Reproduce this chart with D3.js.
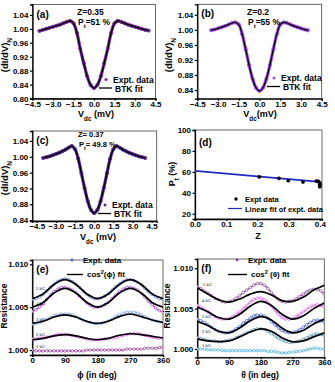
<!DOCTYPE html>
<html><head><meta charset="utf-8">
<script src="https://cdn.jsdelivr.net/npm/d3@7"></script>
<style>
body{margin:0;background:#fff}
text{font-family:"Liberation Sans",Arial,sans-serif;font-weight:bold;fill:#000}
</style></head>
<body><svg id="c" width="335" height="382"></svg>
<script>
// ---------- data ----------
const voltAC = [-4,-3.75,-3.5,-3.25,-3,-2.75,-2.5,-2.25,-2,-1.75,-1.5,-1.25,-1,-0.75,-0.5,-0.25,0,0.25,0.5,0.75,1,1.25,1.5,1.75,2,2.25,2.5,2.75,3,3.25,3.5,3.75,4];
const voltB = [-3.5,-3.25,-3,-2.75,-2.5,-2.25,-2,-1.75,-1.5,-1.25,-1,-0.75,-0.5,-0.25,0,0.25,0.5,0.75,1,1.25,1.5,1.75,2,2.25,2.5,2.75,3,3.25,3.5];
const exptA = [0.994,0.997,1.000,1.003,1.006,1.009,1.012,1.016,1.020,1.023,1.016,0.988,0.942,0.902,0.864,0.839,0.830,0.839,0.864,0.902,0.942,0.988,1.016,1.023,1.020,1.016,1.012,1.009,1.006,1.003,1.000,0.997,0.995];
const fitA  = [0.994,0.997,1.000,1.003,1.006,1.009,1.012,1.016,1.020,1.023,1.016,0.988,0.942,0.902,0.864,0.839,0.830,0.839,0.864,0.902,0.942,0.988,1.016,1.023,1.020,1.016,1.012,1.009,1.006,1.003,1.000,0.997,0.995];
const exptB = [0.999,1.001,1.004,1.007,1.010,1.014,1.018,1.020,1.014,0.988,0.948,0.906,0.870,0.846,0.838,0.846,0.870,0.906,0.948,0.988,1.014,1.020,1.018,1.014,1.010,1.007,1.004,1.001,0.999];
const fitB  = [0.999,1.001,1.004,1.007,1.010,1.014,1.018,1.020,1.014,0.988,0.948,0.906,0.870,0.846,0.838,0.846,0.870,0.906,0.948,0.988,1.014,1.020,1.018,1.014,1.010,1.007,1.004,1.001,0.999];
const exptC = [0.997,0.999,1.001,1.004,1.007,1.010,1.014,1.018,1.023,1.027,1.019,0.995,0.958,0.921,0.888,0.866,0.858,0.866,0.888,0.921,0.958,0.995,1.019,1.027,1.023,1.018,1.014,1.010,1.007,1.004,1.001,0.999,0.997];
const fitC  = [0.997,0.999,1.001,1.004,1.007,1.010,1.014,1.018,1.023,1.027,1.019,0.995,0.958,0.921,0.888,0.866,0.858,0.866,0.888,0.921,0.958,0.995,1.019,1.027,1.023,1.018,1.014,1.010,1.007,1.004,1.001,0.999,0.997];
const voltTicks = [-4.5,-3.0,-1.5,0.0,1.5,3.0,4.5];
const dIdVTicksA = [0.80,0.84,0.88,0.92,0.96,1.00,1.04];
const dIdVTicksBC = [0.84,0.88,0.92,0.96,1.00,1.04];

const zVals = [0.206,0.269,0.299,0.346,0.389,0.395,0.400,0.400,0.400,0.400];
const pVals = [55.2,53.8,51.6,50.4,51.2,51.0,49.6,48.2,46.8,45.8];
const zFit = [0.0,0.40];
const pFit = [61.0,50.5];
const zTicks = [0.0,0.1,0.2,0.3,0.4];
const pTicks = [20,40,60,80,100];

const ang10 = [0,10,20,30,40,50,60,70,80,90,100,110,120,130,140,150,160,170,180,190,200,210,220,230,240,250,260,270,280,290,300,310,320,330,340,350,360];
const ang30 = [0,30,60,90,120,150,180,210,240,270,300,330,360];
const angTicks = [0,90,180,270,360];
const resTicks = [1.000,1.005,1.010];
const fieldLabels = ["5 kG","4 kG","3 kG","2 kG","1 kG"];

const phiE5 = [1.0059,1.0060,1.0062,1.0065,1.0069,1.0073,1.0077,1.0080,1.0082,1.0083,1.0082,1.0080,1.0077,1.0073,1.0069,1.0065,1.0062,1.0060,1.0060,1.0061,1.0063,1.0066,1.0070,1.0074,1.0077,1.0080,1.0082,1.0082,1.0081,1.0079,1.0076,1.0072,1.0068,1.0065,1.0062,1.0060,1.0059];
const phiE4 = [1.0045,1.0047,1.0050,1.0054,1.0059,1.0064,1.0068,1.0071,1.0073,1.0073,1.0072,1.0070,1.0067,1.0063,1.0059,1.0055,1.0052,1.0050,1.0050,1.0051,1.0053,1.0056,1.0060,1.0064,1.0068,1.0071,1.0073,1.0073,1.0072,1.0070,1.0066,1.0062,1.0057,1.0053,1.0049,1.0046,1.0044];
const phiE3 = [1.0030,1.0031,1.0032,1.0034,1.0036,1.0038,1.0040,1.0041,1.0042,1.0042,1.0042,1.0041,1.0039,1.0037,1.0035,1.0033,1.0032,1.0031,1.0031,1.0031,1.0032,1.0034,1.0036,1.0039,1.0041,1.0043,1.0044,1.0044,1.0044,1.0043,1.0041,1.0039,1.0037,1.0035,1.0034,1.0033,1.0032];
const phiE2 = [1.0013,1.0013,1.0014,1.0014,1.0015,1.0016,1.0017,1.0018,1.0018,1.0018,1.0018,1.0017,1.0016,1.0015,1.0014,1.0013,1.0012,1.0012,1.0012,1.0012,1.0013,1.0013,1.0014,1.0015,1.0016,1.0017,1.0018,1.0019,1.0019,1.0019,1.0018,1.0017,1.0016,1.0015,1.0014,1.0014,1.0015];
const phiE1 = [1.0000,0.9999,0.9999,0.9999,0.9999,0.9999,0.9999,0.9999,0.9999,0.9999,0.9999,0.9999,0.9999,0.9999,0.9999,1.0000,1.0000,1.0000,1.0000,1.0000,1.0000,1.0000,1.0000,1.0000,1.0000,1.0000,1.0001,1.0001,1.0001,1.0001,1.0001,1.0002,1.0002,1.0002,1.0002,1.0003,1.0003];
const fitE5 = [1.0060,1.00655,1.00765,1.0082,1.00765,1.00655,1.0060,1.00655,1.00765,1.0082,1.00765,1.00655,1.0060];
const fitE4 = [1.0050,1.00555,1.00665,1.0072,1.00665,1.00555,1.0050,1.00555,1.00665,1.0072,1.00665,1.00555,1.0050];
const fitE3 = [1.0031,1.00335,1.00385,1.0041,1.00385,1.00335,1.0031,1.00338,1.0039,1.0042,1.0039,1.0035,1.0032];
const fitE2 = [1.0012,1.00135,1.00165,1.0018,1.00165,1.00135,1.0012,1.00137,1.00172,1.0019,1.0018,1.0016,1.0014];

const thF5 = [1.0077,1.0075,1.0072,1.0069,1.0066,1.0063,1.0061,1.0059,1.0058,1.0059,1.0060,1.0063,1.0066,1.0070,1.0073,1.0076,1.0079,1.0081,1.0081,1.0079,1.0075,1.0070,1.0065,1.0061,1.0059,1.0058,1.0059,1.0060,1.0062,1.0065,1.0068,1.0071,1.0073,1.0074,1.0074,1.0072,1.0068];
const thF4 = [1.0054,1.0052,1.0049,1.0046,1.0043,1.0040,1.0038,1.0037,1.0037,1.0038,1.0040,1.0043,1.0046,1.0050,1.0054,1.0058,1.0061,1.0063,1.0063,1.0061,1.0058,1.0053,1.0048,1.0043,1.0039,1.0037,1.0037,1.0038,1.0040,1.0043,1.0046,1.0049,1.0052,1.0054,1.0055,1.0054,1.0052];
const thF3 = [1.0037,1.0035,1.0033,1.0030,1.0027,1.0024,1.0022,1.0021,1.0020,1.0021,1.0022,1.0025,1.0028,1.0032,1.0035,1.0038,1.0041,1.0042,1.0042,1.0041,1.0038,1.0034,1.0030,1.0026,1.0023,1.0021,1.0020,1.0021,1.0022,1.0024,1.0027,1.0030,1.0033,1.0035,1.0036,1.0035,1.0033];
const thF2 = [1.0014,1.0013,1.0012,1.0011,1.0010,1.0010,1.0009,1.0009,1.0010,1.0011,1.0012,1.0014,1.0016,1.0018,1.0020,1.0022,1.0024,1.0025,1.0025,1.0024,1.0022,1.0019,1.0016,1.0013,1.0011,1.0009,1.0008,1.0008,1.0009,1.0010,1.0012,1.0014,1.0016,1.0018,1.0019,1.0018,1.0016];
const thF1 = [1.0000,1.0000,1.0000,0.9999,0.9999,0.9999,0.9999,0.9998,0.9998,0.9998,0.9998,0.9998,0.9998,0.9998,0.9998,0.9998,0.9998,0.9998,0.9998,0.9998,0.9997,0.9997,0.9997,0.9996,0.9995,0.9995,0.9996,0.9996,0.9997,0.9997,0.9998,0.9999,1.0000,1.0001,1.0001,1.0000,1.0000];
const fitF5 = [1.0076,1.0068,1.0061,1.0058,1.0062,1.0068,1.0071,1.0067,1.0060,1.0059,1.0064,1.0073,1.0079];
const fitF4 = [1.0052,1.0046,1.0039,1.0037,1.0043,1.0053,1.0059,1.0054,1.0043,1.0037,1.0041,1.0050,1.0057];
const fitF3 = [1.0034,1.0029,1.0022,1.0020,1.0026,1.0035,1.0040,1.0036,1.0026,1.0020,1.0023,1.0031,1.0037];
const fitF2 = [1.00125,1.0010,1.0009,1.0010,1.0015,1.0021,1.0025,1.0022,1.0014,1.0009,1.0010,1.0015,1.0020];

// ---------- helpers ----------
const svg = d3.select("#c");

function panel(o){
  const x = d3.scaleLinear().domain(o.xd).range([o.l,o.r]);
  const y = d3.scaleLinear().domain(o.yd).range([o.b,o.t]);
  const g = svg.append("g");
  g.append("rect").attr("x",o.l).attr("y",o.t).attr("width",o.r-o.l).attr("height",o.b-o.t)
    .attr("fill","none").attr("stroke","#444").attr("stroke-width",0.8);
  const ax = g.append("g").attr("transform",`translate(0,${o.b})`)
    .call(d3.axisBottom(x).tickValues(o.xt).tickFormat(o.xf).tickSize(2).tickPadding(0.5));
  const ay = g.append("g").attr("transform",`translate(${o.l},0)`)
    .call(d3.axisLeft(y).tickValues(o.yt).tickFormat(o.yf).tickSize(2.5).tickPadding(1.5));
  [ax,ay].forEach(a=>{
    a.select(".domain").attr("stroke","#000").attr("stroke-width",1.3);
    a.selectAll(".tick line").attr("stroke","#000").attr("stroke-width",1.2);
    a.selectAll("text").style("font-size","8px").style("font-family","'Liberation Sans',Arial,sans-serif").style("font-weight","bold").attr("fill","#000");
  });
  const clip = "clip"+Math.random().toString(36).slice(2);
  g.append("clipPath").attr("id",clip).append("rect").attr("x",o.l).attr("y",o.t).attr("width",o.r-o.l).attr("height",o.b-o.t);
  const inner = g.append("g").attr("clip-path",`url(#${clip})`);
  return {g,inner,x,y};
}
function txt(g,x,y,s,size,anchor){
  return g.append("text").attr("x",x).attr("y",y).attr("font-size",size).attr("text-anchor",anchor||"start").text(s);
}
function dots(p,xs,ys,col,r,fill){
  p.inner.append("g").selectAll("circle").data(xs).join("circle")
    .attr("cx",(d)=>p.x(d)).attr("cy",(d,i)=>p.y(ys[i])).attr("r",r).attr("fill",fill||col).attr("stroke",col).attr("stroke-width",0.6);
}
function line(p,xs,ys,col,w,curve,op){
  const gen = d3.line().x(d=>p.x(d[0])).y(d=>p.y(d[1])).curve(curve||d3.curveCatmullRom.alpha(0.5));
  p.inner.append("path").attr("d",gen(xs.map((d,i)=>[d,ys[i]]))).attr("fill","none").attr("stroke",col).attr("stroke-width",w).attr("stroke-opacity",op||1);
}
function ytitle(g,cx,cy,size,parts){
  const t = g.append("text").attr("transform",`translate(${cx},${cy}) rotate(-90)`).attr("text-anchor","middle").attr("font-size",size);
  parts.forEach(p=>{ const ts=t.append("tspan").text(p[0]); if(p[1]) ts.attr("baseline-shift",p[1]).attr("font-size",size*0.7); });
  return t;
}
function xtitle(g,cx,y,size,parts){
  const t = g.append("text").attr("x",cx).attr("y",y).attr("text-anchor","middle").attr("font-size",size);
  parts.forEach(p=>{ const ts=t.append("tspan").text(p[0]); if(p[1]) ts.attr("baseline-shift",p[1]).attr("font-size",size*0.7); });
  return t;
}
const f2 = d3.format(".2f"), f1 = d3.format(".1f"), f3 = d3.format(".3f"), f0 = d3.format("d");

// ---------- BTK panels ----------
function btk(o,volt,expt,fit,col,lab,z,pt,leg,zs){
  const p = panel(o);
  line(p,volt,expt,col,3.2);
  dots(p,volt,expt,col,1.7);
  line(p,volt,fit,"#000",1.3);
  txt(p.g,o.l+4,o.t+13,lab,10);
  txt(p.g,leg.zx,leg.zy,z,zs);
  const t = p.g.append("text").attr("x",leg.zx+1).attr("y",leg.zy+9.5).attr("font-size",zs);
  t.append("tspan").text("P");
  t.append("tspan").text("t").attr("font-size",zs*0.7).attr("baseline-shift","sub");
  t.append("tspan").text(pt);
  p.g.append("circle").attr("cx",leg.dx).attr("cy",leg.dy).attr("r",1.5).attr("fill",col);
  txt(p.g,leg.dx+7,leg.dy+3,"Expt. data",8.5);
  p.g.append("line").attr("x1",leg.dx-7).attr("x2",leg.dx+6).attr("y1",leg.dy+8.5).attr("y2",leg.dy+8.5).attr("stroke","#000").attr("stroke-width",1.3);
  txt(p.g,leg.dx+9,leg.dy+12,"BTK fit",8.5);
  return p;
}
const pa = btk({l:32.5,r:155.5,t:4.5,b:98.5,xd:[-4.5,4.5],yd:[0.80,1.07],xt:voltTicks,xf:f1,yt:dIdVTicksA,yf:f2},
  voltAC,exptA,fitA,"#7a2ca0","(a)","Z=0.35","=51 %",{zx:77,zy:15,dx:106,dy:79.5},8.5);
ytitle(pa.g,8,55,9.5,[["(dI/dV)"],["N","sub"]]);
xtitle(pa.g,96,116.5,9,[["V"],["dc","sub"],[" (mV)"]]);

const pb = btk({l:197.3,r:321.7,t:4.3,b:98.7,xd:[-4.5,4.5],yd:[0.817,1.068],xt:voltTicks,xf:f1,yt:dIdVTicksBC,yf:f2},
  voltB,exptB,fitB,"#a24cf0","(b)","Z=0.2","=55 %",{zx:247,zy:15,dx:274,dy:78},8.5);
ytitle(pb.g,172,55,9.5,[["(dI/dV)"],["N","sub"]]);
xtitle(pb.g,260,116.5,9,[["V"],["dc","sub"],["(mV)"]]);

const pc = btk({l:32.3,r:156.7,t:131,b:221,xd:[-4.85,4.9],yd:[0.838,1.065],xt:voltTicks,xf:f1,yt:dIdVTicksBC,yf:f2},
  voltAC,exptC,fitC,"#58289a","(c)","Z= 0.37","= 49.8 %",{zx:78,zy:137,dx:105,dy:205},7.5);
ytitle(pc.g,8,178,9.5,[["(dI/dV)"],["N","sub"]]);
xtitle(pc.g,98,240,9,[["V"],["dc","sub"],[" (mV)"]]);

// ---------- panel d ----------
const pd = panel({l:195,r:322,t:130,b:219,xd:[0,0.407],yd:[15,100],xt:zTicks,xf:f1,yt:pTicks,yf:f0});
line(pd,zFit,pFit,"#1a2dbf",1.6,d3.curveLinear);
dots(pd,zVals,pVals,"#000",1.6);
txt(pd.g,199,146,"(d)",10);
pd.g.append("circle").attr("cx",236).attr("cy",199).attr("r",1.7).attr("fill","#000");
txt(pd.g,245,202,"Expt data",7.5);
pd.g.append("line").attr("x1",228).attr("x2",242).attr("y1",208.5).attr("y2",208.5).attr("stroke","#1a2dbf").attr("stroke-width",1.2);
txt(pd.g,245,211.5,"Linear fit of expt. data",7.5);
ytitle(pd.g,175,174,9,[["P"],["t","sub"],[" (%)"]]);
xtitle(pd.g,258,239,9,[["Z"]]);

// ---------- panels e, f ----------
function angPanel(o,series,fits,cols,lab,legCol,legText,labPos){
  const p = panel(o);
  series.forEach((s,i)=>{ line(p,ang10,s,cols[i],1.6,null,0.75); dots(p,ang10,s,cols[i],1.3,"#fff"); });
  fits.forEach(f=>line(p,ang30,f,"#000",1.7));
  txt(p.g,o.l+4,o.t+13,lab,10);
  p.g.append("circle").attr("cx",legText.dx).attr("cy",legText.dy).attr("r",1.4).attr("fill",legCol);
  txt(p.g,legText.dx+11,legText.dy+3,"Expt. data",8);
  p.g.append("line").attr("x1",legText.lx1).attr("x2",legText.lx2).attr("y1",legText.dy+14.5).attr("y2",legText.dy+14.5).attr("stroke","#000").attr("stroke-width",1.4);
  const t = p.g.append("text").attr("x",legText.lx2+4).attr("y",legText.dy+17).attr("font-size",8);
  t.append("tspan").text("cos");
  t.append("tspan").text("2").attr("font-size",5.5).attr("baseline-shift","super");
  t.append("tspan").text(legText.arg);
  fieldLabels.forEach((s,i)=>{
    p.g.append("text").attr("x",labPos[i][0]).attr("y",labPos[i][1]).attr("font-size",4.5)
      .style("font-family","'Liberation Serif',serif").style("font-weight","normal").text(s);
  });
  return p;
}
const pe = angPanel({l:32.3,r:163,t:260,b:355,xd:[0,360],yd:[0.99942,1.0105],xt:angTicks,xf:f0,yt:resTicks,yf:f3},
  [phiE5,phiE4,phiE3,phiE2,phiE1],[fitE5,fitE4,fitE3,fitE2],
  ["#4a63d8","#a02ee0","#6f8ff5","#e040ee","#8a2890"],"(e)","#4a63d8",
  {dx:72,dy:260,lx1:67,lx2:83,arg:"(ϕ) fit"},[[36,290],[36,305],[36,321],[36,336],[36,348]]);
ytitle(pe.g,7,306,8.5,[["Resistance"]]);
xtitle(pe.g,97,378,8.5,[["ϕ  (in deg)"]]);

const pf = angPanel({l:197.3,r:324.3,t:259,b:357.3,xd:[0,360],yd:[0.99897,1.01115],xt:angTicks,xf:f0,yt:resTicks,yf:f3},
  [thF5,thF4,thF3,thF2,thF1],[fitF5,fitF4,fitF3,fitF2],
  ["#7e3a92","#e052f2","#2f4fd0","#4a8ea8","#38aaf0"],"(f)","#9040a8",
  {dx:237,dy:260,lx1:228,lx2:247,arg:" (θ) fit"},[[203,286],[202,302],[202,318],[202,333],[202,347]]);
ytitle(pf.g,170,306,8.5,[["Resistance"]]);
xtitle(pf.g,260,378,8.5,[["θ  (in deg)"]]);
</script>
</body></html>
